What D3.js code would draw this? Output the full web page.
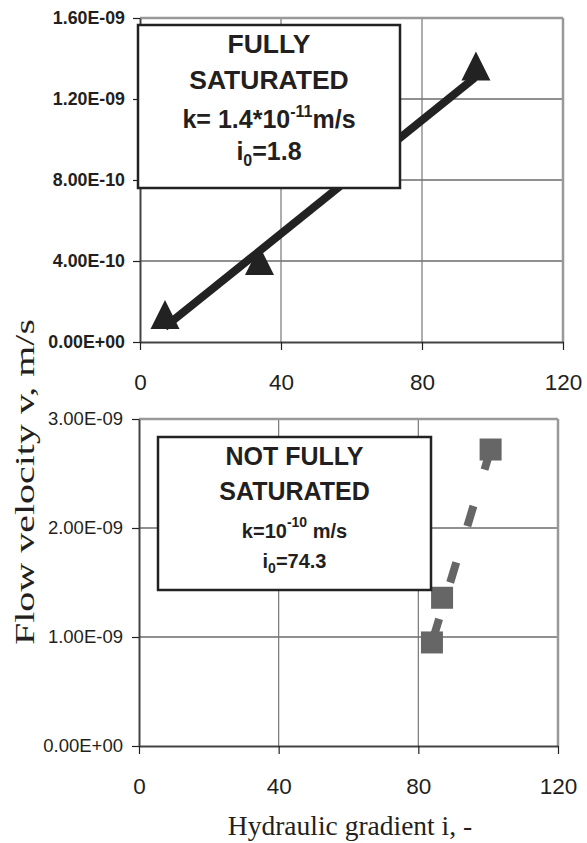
<!DOCTYPE html>
<html>
<head>
<meta charset="utf-8">
<script src="https://cdnjs.cloudflare.com/ajax/libs/d3/7.8.5/d3.min.js"></script>
<style>
  html, body { margin: 0; padding: 0; background: #fff; }
  svg { display: block; }
</style>
</head>
<body>
<div id="chart"></div>
<script>
// fully saturated sample (top panel)
const topI = [7.1, 33.9, 95.3];
const topV = [1.33e-10, 4.0e-10, 1.36e-9];
const topFitI = [7, 95];
const topFitV = [0.73e-10, 1.305e-9];

// not fully saturated sample (bottom panel)
const botI = [83.9, 86.8, 100.7];
const botV = [0.95e-9, 1.36e-9, 2.72e-9];
const botFitI = [100.7, 83.9];
const botFitV = [2.72e-9, 0.95e-9];

const xTicks = [0, 40, 80, 120];
const xLabels = ['0', '40', '80', '120'];
const topYTicks = [0, 4e-10, 8e-10, 1.2e-9, 1.6e-9];
const topYLabels = ['0.00E+00', '4.00E-10', '8.00E-10', '1.20E-09', '1.60E-09'];
const botYTicks = [0, 1e-9, 2e-9, 3e-9];
const botYLabels = ['0.00E+00', '1.00E-09', '2.00E-09', '3.00E-09'];

const W = 587, H = 843;
const ink = '#231f20';
const sans = '"Liberation Sans", Arial, sans-serif';
const serif = '"Liberation Serif", "Times New Roman", serif';

const svg = d3.select('#chart').append('svg')
  .attr('width', W)
  .attr('height', H);

function panel(p) {
  const x = d3.scaleLinear().domain([0, 120]).range([p.left, p.right]);
  const y = d3.scaleLinear().domain([0, p.yMax]).range([p.bottom, p.top]);
  const g = svg.append('g');

  // grid
  g.selectAll('.hgrid')
    .data(p.yTicks.filter(d => d > 0 && d < p.yMax))
    .enter().append('line')
    .attr('x1', p.left).attr('x2', p.right)
    .attr('y1', d => y(d)).attr('y2', d => y(d))
    .attr('stroke', '#222').attr('stroke-width', 1.2);
  g.selectAll('.vgrid')
    .data(xTicks.filter(d => d > 0 && d < 120))
    .enter().append('line')
    .attr('x1', d => x(d)).attr('x2', d => x(d))
    .attr('y1', p.top).attr('y2', p.bottom)
    .attr('stroke', '#777').attr('stroke-width', 1.2);

  // frame (grey top / right)
  g.append('line')
    .attr('x1', p.left).attr('x2', p.right)
    .attr('y1', p.top).attr('y2', p.top)
    .attr('stroke', '#999').attr('stroke-width', 2.5);
  g.append('line')
    .attr('x1', p.right).attr('x2', p.right)
    .attr('y1', p.top).attr('y2', p.bottom)
    .attr('stroke', '#999').attr('stroke-width', 2.5);

  // axes
  const ya = g.append('g')
    .attr('transform', `translate(${p.left},0)`)
    .call(d3.axisLeft(y).tickValues(p.yTicks)
      .tickFormat((d, i) => p.yLabels[i]).tickSize(7).tickSizeOuter(0).tickPadding(p.yPad))
    .attr('font-size', p.yFont)
    .attr('font-family', sans)
    .attr('font-weight', p.yBold ? 'bold' : 'normal');
  ya.select('.domain').attr('stroke', '#444').attr('stroke-width', 2);
  ya.selectAll('.tick line').attr('stroke', ink).attr('stroke-width', 1.2);
  ya.selectAll('text').attr('fill', ink).attr('font-size', p.yFont);

  const xa = g.append('g')
    .attr('transform', `translate(0,${p.bottom})`)
    .call(d3.axisBottom(x).tickValues(xTicks)
      .tickFormat((d, i) => xLabels[i]).tickSize(8).tickSizeOuter(0))
    .attr('font-size', 22.5)
    .attr('font-family', sans);
  xa.select('.domain').attr('stroke', '#444').attr('stroke-width', 2);
  xa.selectAll('.tick line').attr('stroke', ink).attr('stroke-width', 1.2);
  xa.selectAll('text')
    .attr('y', 48).attr('dy', 0)
    .attr('fill', ink)
    .attr('font-size', 22.5);

  return { x, y, g };
}

// ---- top panel
const t = panel({ left: 140, right: 563, top: 18, bottom: 342, yMax: 1.6e-9,
  yTicks: topYTicks, yLabels: topYLabels, yBold: true, yFont: 17.8, yPad: 8 });

t.g.append('path')
  .datum(d3.range(topFitI.length))
  .attr('d', d3.line().x(i => t.x(topFitI[i])).y(i => t.y(topFitV[i])))
  .attr('fill', 'none')
  .attr('stroke', '#222')
  .attr('stroke-width', 8);

t.g.selectAll('.tri')
  .data(d3.range(topI.length))
  .enter().append('path')
  .attr('transform', i => `translate(${t.x(topI[i])},${t.y(topV[i])})`)
  .attr('d', 'M0,-15L14.5,14L-14.5,14Z')
  .attr('fill', '#222');

t.g.append('rect')
  .attr('x', 138).attr('y', 25).attr('width', 262).attr('height', 163)
  .attr('fill', '#fff').attr('stroke', '#222').attr('stroke-width', 2.5);

const tb = t.g.append('g')
  .attr('fill', ink)
  .attr('text-anchor', 'middle')
  .style('font-family', sans)
  .style('font-weight', 'bold');
tb.append('text').attr('x', 269).attr('y', 53).style('font-size', '26.5px').text('FULLY');
tb.append('text').attr('x', 269).attr('y', 89).style('font-size', '26.5px').text('SATURATED');
const tk = tb.append('text').attr('x', 269).attr('y', 128).style('font-size', '25px');
tk.append('tspan').text('k= 1.4*10');
tk.append('tspan').attr('dy', -11).style('font-size', '16px').text('-11');
tk.append('tspan').attr('dy', 11).text('m/s');
const ti = tb.append('text').attr('x', 269).attr('y', 160).style('font-size', '25px');
ti.append('tspan').text('i');
ti.append('tspan').attr('dy', 6).style('font-size', '16px').text('0');
ti.append('tspan').attr('dy', -6).text('=1.8');

// ---- bottom panel
const b = panel({ left: 139, right: 558, top: 419, bottom: 746, yMax: 3e-9,
  yTicks: botYTicks, yLabels: botYLabels, yBold: false, yFont: 18.5, yPad: 9 });

b.g.append('path')
  .datum(d3.range(botFitI.length))
  .attr('d', d3.line().x(i => b.x(botFitI[i])).y(i => b.y(botFitV[i])))
  .attr('fill', 'none')
  .attr('stroke', '#666')
  .attr('stroke-width', 8)
  .attr('stroke-dasharray', '21,38');

b.g.selectAll('.sq')
  .data(d3.range(botI.length))
  .enter().append('rect')
  .attr('x', i => b.x(botI[i]) - 11)
  .attr('y', i => b.y(botV[i]) - 11)
  .attr('width', 22).attr('height', 22)
  .attr('fill', '#666');

b.g.append('rect')
  .attr('x', 158).attr('y', 437).attr('width', 273).attr('height', 153)
  .attr('fill', '#fff').attr('stroke', '#222').attr('stroke-width', 2.5);

const bb = b.g.append('g')
  .attr('fill', ink)
  .attr('text-anchor', 'middle')
  .style('font-family', sans)
  .style('font-weight', 'bold');
bb.append('text').attr('x', 294.5).attr('y', 465).style('font-size', '25px').text('NOT FULLY');
bb.append('text').attr('x', 294.5).attr('y', 500).style('font-size', '25px').text('SATURATED');
const bk = bb.append('text').attr('x', 294.5).attr('y', 538).style('font-size', '20px');
bk.append('tspan').text('k=10');
bk.append('tspan').attr('dy', -11).style('font-size', '14px').text('-10');
bk.append('tspan').attr('dy', 11).text(' m/s');
const bi = bb.append('text').attr('x', 294.5).attr('y', 568).style('font-size', '20px');
bi.append('tspan').text('i');
bi.append('tspan').attr('dy', 5).style('font-size', '14px').text('0');
bi.append('tspan').attr('dy', -5).text('=74.3');

// ---- axis titles
svg.append('text')
  .attr('transform', 'translate(34,482) rotate(-90)')
  .attr('text-anchor', 'middle')
  .attr('fill', ink)
  .attr('textLength', 326)
  .attr('lengthAdjust', 'spacingAndGlyphs')
  .style('font-family', serif)
  .style('font-size', '28px')
  .text('Flow velocity v, m/s');

svg.append('text')
  .attr('x', 350).attr('y', 835)
  .attr('text-anchor', 'middle')
  .attr('fill', ink)
  .style('font-family', serif)
  .style('font-size', '27.5px')
  .text('Hydraulic gradient i, -');
</script>
</body>
</html>
